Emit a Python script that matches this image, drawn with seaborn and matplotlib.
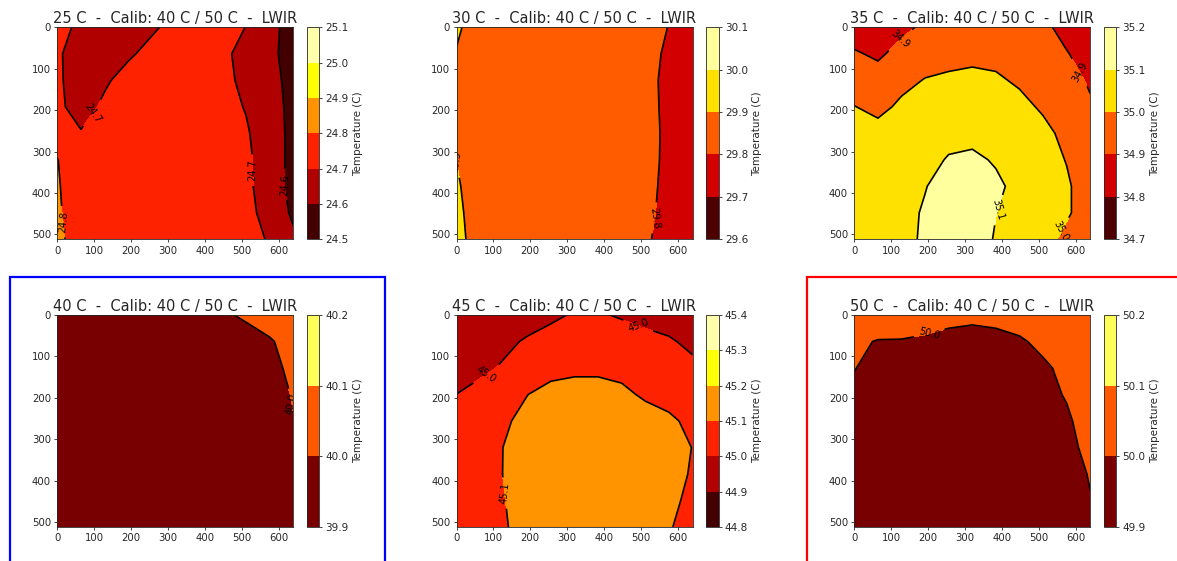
import numpy as np
import matplotlib
matplotlib.use("Agg")
import matplotlib.pyplot as plt
import seaborn as sns
from matplotlib.patches import Rectangle

# grid (pixel coordinates of the sensor)
x_px = [0, 64, 128, 192, 256, 320, 384, 448, 512, 576, 640]
y_px = [0, 64, 128, 192, 256, 320, 384, 448, 512]

temps = [25, 30, 35, 40, 45, 50]

levels_25 = [24.5, 24.6, 24.7, 24.8, 24.9, 25.0, 25.1]
levels_30 = [29.6, 29.7, 29.8, 29.9, 30.0, 30.1]
levels_35 = [34.7, 34.8, 34.9, 35.0, 35.1, 35.2]
levels_40 = [39.9, 40.0, 40.1, 40.2]
levels_45 = [44.8, 44.9, 45.0, 45.1, 45.2, 45.3, 45.4]
levels_50 = [49.9, 50.0, 50.1, 50.2]

# temperature read on the grid (rows = y, cols = x)
temp_25 = [
    [24.72, 24.687, 24.665, 24.67, 24.69, 24.72, 24.74, 24.73, 24.6985, 24.64, 24.545],
    [24.71, 24.665, 24.67, 24.69, 24.72, 24.74, 24.75, 24.73, 24.653, 24.63, 24.547],
    [24.71, 24.67, 24.69, 24.725, 24.75, 24.76, 24.76, 24.73, 24.673, 24.635, 24.565],
    [24.715, 24.671, 24.713, 24.745, 24.76, 24.76, 24.76, 24.73, 24.695, 24.64, 24.573],
    [24.77, 24.705, 24.73, 24.75, 24.76, 24.76, 24.76, 24.74, 24.71, 24.646, 24.574],
    [24.802, 24.75, 24.76, 24.76, 24.76, 24.76, 24.76, 24.745, 24.715, 24.661, 24.566],
    [24.806, 24.76, 24.76, 24.76, 24.76, 24.76, 24.76, 24.745, 24.715, 24.665, 24.563],
    [24.81, 24.76, 24.76, 24.76, 24.76, 24.76, 24.76, 24.75, 24.72, 24.675, 24.582],
    [24.82, 24.76, 24.76, 24.76, 24.76, 24.76, 24.76, 24.76, 24.74, 24.69, 24.62],
]
temp_30 = [
    [29.915, 29.85, 29.85, 29.85, 29.85, 29.85, 29.85, 29.84, 29.83, 29.798, 29.76],
    [29.895, 29.86, 29.855, 29.85, 29.85, 29.85, 29.85, 29.84, 29.83, 29.785, 29.76],
    [29.896, 29.86, 29.855, 29.85, 29.85, 29.85, 29.85, 29.84, 29.83, 29.775, 29.75],
    [29.897, 29.86, 29.855, 29.85, 29.85, 29.85, 29.85, 29.84, 29.83, 29.778, 29.75],
    [29.898, 29.86, 29.855, 29.85, 29.85, 29.85, 29.85, 29.84, 29.83, 29.782, 29.755],
    [29.899, 29.86, 29.855, 29.85, 29.85, 29.85, 29.85, 29.84, 29.83, 29.78, 29.755],
    [29.91, 29.855, 29.85, 29.85, 29.85, 29.85, 29.85, 29.84, 29.83, 29.773, 29.75],
    [29.92, 29.855, 29.85, 29.85, 29.85, 29.85, 29.85, 29.84, 29.83, 29.761, 29.745],
    [29.93, 29.855, 29.85, 29.85, 29.85, 29.85, 29.85, 29.84, 29.81, 29.772, 29.75],
]
temp_35 = [
    [34.85, 34.86, 34.88, 34.915, 34.95, 34.96, 34.96, 34.95, 34.92, 34.87, 34.84],
    [34.91, 34.885, 34.93, 34.95, 34.97, 34.98, 34.98, 34.965, 34.94, 34.905, 34.86],
    [34.93, 34.94, 34.97, 35.005, 35.015, 35.02, 35.01, 34.99, 34.96, 34.93, 34.89],
    [35.003, 34.97, 35.02, 35.04, 35.05, 35.05, 35.04, 35.02, 34.99, 34.95, 34.91],
    [35.02, 35.04, 35.06, 35.07, 35.08, 35.085, 35.08, 35.06, 35.02, 34.98, 34.94],
    [35.03, 35.05, 35.07, 35.08, 35.105, 35.11, 35.095, 35.07, 35.03, 34.997, 34.95],
    [35.04, 35.06, 35.08, 35.098, 35.12, 35.13, 35.11, 35.085, 35.04, 35.01, 34.96],
    [35.04, 35.06, 35.085, 35.105, 35.13, 35.135, 35.101, 35.08, 35.04, 35.01, 34.96],
    [35.04, 35.06, 35.08, 35.11, 35.13, 35.13, 35.095, 35.07, 35.03, 34.98, 34.95],
]
temp_40 = [
    [39.95, 39.95, 39.95, 39.95, 39.95, 39.955, 39.96, 39.985, 40.015, 40.05, 40.07],
    [39.95, 39.95, 39.95, 39.95, 39.95, 39.95, 39.955, 39.955, 39.96, 39.99, 40.04],
    [39.95, 39.95, 39.95, 39.95, 39.95, 39.95, 39.95, 39.955, 39.965, 39.975, 40.02],
    [39.95, 39.95, 39.95, 39.95, 39.95, 39.95, 39.95, 39.95, 39.955, 39.96, 40.006],
    [39.95, 39.95, 39.95, 39.95, 39.95, 39.95, 39.95, 39.95, 39.955, 39.965, 39.997],
    [39.95, 39.95, 39.95, 39.95, 39.95, 39.95, 39.95, 39.95, 39.95, 39.96, 39.98],
    [39.95, 39.95, 39.95, 39.95, 39.95, 39.95, 39.95, 39.95, 39.95, 39.955, 39.97],
    [39.95, 39.95, 39.95, 39.95, 39.95, 39.95, 39.95, 39.95, 39.95, 39.955, 39.96],
    [39.95, 39.95, 39.95, 39.95, 39.95, 39.95, 39.95, 39.95, 39.95, 39.955, 39.96],
]
temp_45 = [
    [44.93, 44.94, 44.95, 44.96, 44.98, 45.01, 45.01, 44.99, 44.97, 44.96, 44.95],
    [44.93, 44.955, 44.98, 45.01, 45.04, 45.06, 45.06, 45.05, 45.03, 45.01, 44.98],
    [44.95, 44.98, 45.01, 45.05, 45.075, 45.085, 45.085, 45.08, 45.06, 45.04, 45.02],
    [45.001, 45.03, 45.07, 45.099, 45.125, 45.13, 45.13, 45.115, 45.09, 45.07, 45.05],
    [45.03, 45.06, 45.09, 45.12, 45.14, 45.15, 45.15, 45.14, 45.13, 45.115, 45.08],
    [45.04, 45.07, 45.101, 45.13, 45.15, 45.155, 45.155, 45.15, 45.14, 45.12, 45.099],
    [45.04, 45.07, 45.1015, 45.13, 45.15, 45.16, 45.16, 45.15, 45.14, 45.12, 45.095],
    [45.04, 45.07, 45.098, 45.125, 45.15, 45.16, 45.16, 45.15, 45.14, 45.115, 45.085],
    [45.04, 45.07, 45.095, 45.12, 45.145, 45.155, 45.155, 45.145, 45.13, 45.105, 45.075],
]
temp_50 = [
    [50.04, 50.04, 50.04, 50.03, 50.02, 50.015, 50.02, 50.03, 50.04, 50.045, 50.05],
    [50.01, 49.997, 49.996, 49.99, 49.98, 49.975, 49.98, 49.992, 50.015, 50.04, 50.05],
    [50.003, 49.97, 49.97, 49.97, 49.965, 49.96, 49.965, 49.975, 49.99, 50.015, 50.04],
    [49.98, 49.96, 49.96, 49.96, 49.96, 49.96, 49.96, 49.965, 49.98, 50.005, 50.035],
    [49.97, 49.96, 49.96, 49.955, 49.955, 49.955, 49.955, 49.96, 49.97, 49.99, 50.03],
    [49.96, 49.955, 49.955, 49.955, 49.95, 49.95, 49.95, 49.955, 49.965, 49.98, 50.02],
    [49.96, 49.955, 49.95, 49.95, 49.95, 49.95, 49.95, 49.95, 49.96, 49.97, 50.005],
    [49.96, 49.955, 49.95, 49.95, 49.95, 49.95, 49.95, 49.95, 49.955, 49.965, 49.997],
    [49.96, 49.955, 49.95, 49.95, 49.95, 49.95, 49.95, 49.95, 49.95, 49.96, 49.98],
]

# where the contour labels sit
label_pos_25 = [(100, 210), (530, 345), (612, 380), (12, 470)]
label_pos_30 = [(3, 300), (535, 460)]
label_pos_35 = [(130, 35), (610, 110), (385, 440), (555, 490)]
label_pos_40 = [(635, 215)]
label_pos_45 = [(75, 135), (495, 20), (130, 430)]
label_pos_50 = [(205, 50)]

fields = [temp_25, temp_30, temp_35, temp_40, temp_45, temp_50]
all_levels = [levels_25, levels_30, levels_35, levels_40, levels_45, levels_50]
all_labels = [label_pos_25, label_pos_30, label_pos_35, label_pos_40, label_pos_45, label_pos_50]

sns.set_style("ticks")
plt.rcParams['font.family'] = ['DejaVu Sans']
plt.rcParams['xtick.major.size'] = 2.5
plt.rcParams['ytick.major.size'] = 2.5
plt.rcParams['xtick.major.width'] = 0.6
plt.rcParams['ytick.major.width'] = 0.6

W, H = 1177, 561
fig = plt.figure(figsize=(W / 100, H / 100), dpi=100)


def px_rect(left, top, w, h):
    return [left / W, 1 - (top + h) / H, w / W, h / H]


col_left = [57.3, 456.5, 854.3]
row_top = [27.3, 315]

for i, (temp, Z, levels, lpos) in enumerate(zip(temps, fields, all_levels, all_labels)):
    r, c = divmod(i, 3)
    ax = fig.add_axes(px_rect(col_left[c], row_top[r], 236, 212))
    cax = fig.add_axes(px_rect(col_left[c] + 249.5, row_top[r], 12.5, 212))

    Z = np.array(Z)
    cf = ax.contourf(x_px, y_px, Z, levels=levels, cmap='hot')
    cs = ax.contour(x_px, y_px, Z, levels=levels, colors='k', linewidths=1.2)
    ax.clabel(cs, fmt='%.1f', fontsize=7, inline=True, manual=lpos)

    ax.set_xlim(0, 640)
    ax.set_ylim(512, 0)
    ax.set_xticks(range(0, 601, 100))
    ax.set_yticks(range(0, 501, 100))
    ax.tick_params(labelsize=7.3, pad=2)
    ax.set_title(f"{temp} C  -  Calib: 40 C / 50 C  -  LWIR", fontsize=10.5, pad=3)
    for s in ax.spines.values():
        s.set_linewidth(0.6)

    cb = fig.colorbar(cf, cax=cax, ticks=levels)
    cb.ax.set_yticklabels([f"{v:.1f}" for v in levels])
    cb.ax.tick_params(labelsize=7.5, pad=2)
    cb.set_label('Temperature (C)', fontsize=7.5, labelpad=3)
    cb.outline.set_linewidth(0.6)

# highlight the two calibration frames
fig.add_artist(Rectangle((10 / W, -0.1), 375 / W, (H - 276.7) / H + 0.1,
                         transform=fig.transFigure, fill=False, ec='blue', lw=1.6))
fig.add_artist(Rectangle((806.7 / W, -0.1), 0.5, (H - 276.7) / H + 0.1,
                         transform=fig.transFigure, fill=False, ec='red', lw=1.6))

fig.savefig("out.png", dpi=100)
